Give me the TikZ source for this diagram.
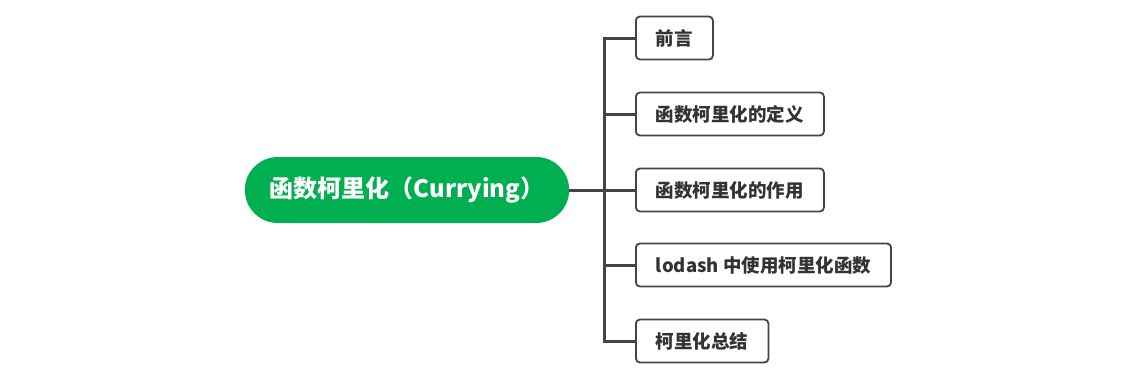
\documentclass[tikz,border=0pt]{standalone}
\usepackage{fontspec}
\setmainfont{Noto Sans CJK SC}
\usetikzlibrary{positioning, shapes.misc}
\definecolor{topicgreen}{RGB}{0,176,80}
\definecolor{linegray}{RGB}{68,68,68}
\definecolor{textgray}{RGB}{51,51,51}
\tikzset{
root/.style={rounded rectangle, fill=topicgreen, text=white, font=\bfseries\fontsize{24}{27}\selectfont, minimum width=331pt, minimum height=66pt}, % the central topic
topic/.style={draw=linegray, line width=1.8pt, rounded corners=4pt, anchor=west, text=textgray, font=\bfseries\fontsize{18.5}{21}\selectfont, minimum height=43pt, inner xsep=20pt}, % the sub topics
branch/.style={draw=linegray, line width=3pt}, % lines from the root to the sub topics
}

\begin{document}
\begin{tikzpicture}[x=1pt, y=-1pt]
\useasboundingbox (0,0) rectangle (1138,386);
\node[root] (root) at (407,190) {函数柯里化（Currying）};
\node[topic] (t1) at (635,38) {前言};
\node[topic] (t2) at (635,114) {函数柯里化的定义};
\node[topic] (t3) at (635,190) {函数柯里化的作用};
\node[topic] (t4) at (635,265) {lodash 中使用柯里化函数};
\node[topic] (t5) at (635,341) {柯里化总结};
\coordinate (fork) at (604,190);
\draw[branch] (root.east) -- (fork);
\foreach \t in {t1,t2,t3,t4,t5}
  \draw[branch] (fork) |- (\t.west);
\end{tikzpicture}
\end{document}
